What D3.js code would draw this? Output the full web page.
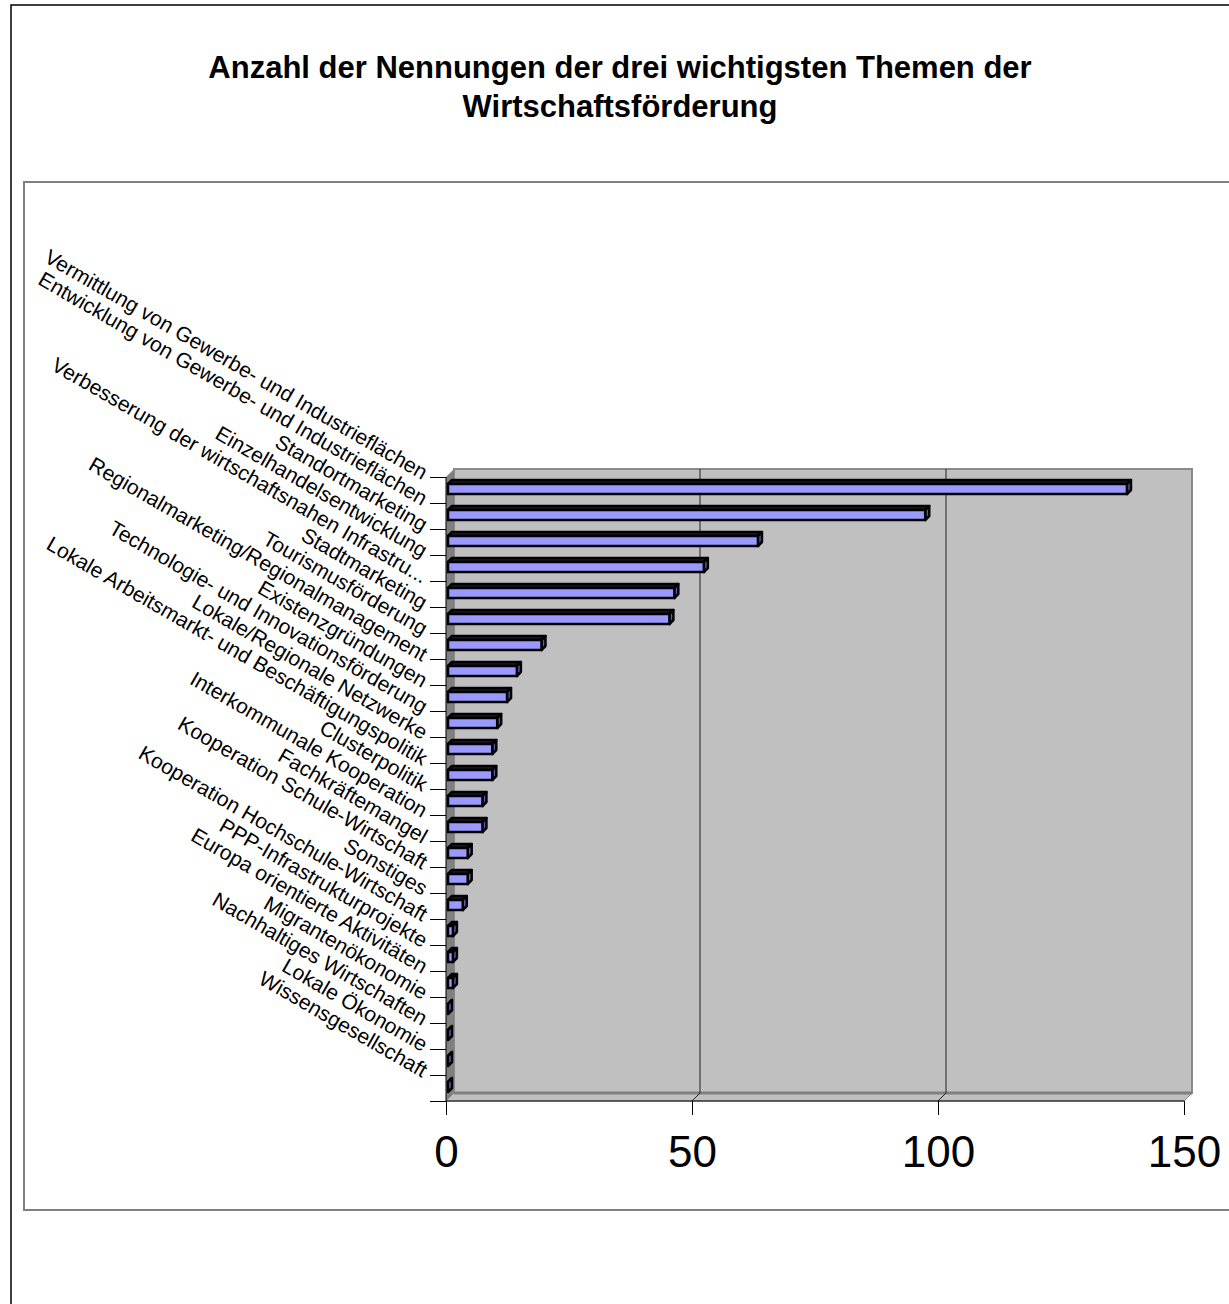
<!DOCTYPE html>
<html>
<head>
<meta charset="utf-8">
<script src="https://cdn.jsdelivr.net/npm/d3@7"></script>
<style>
  body { margin: 0; background: #fff; }
  svg { display: block; font-family: Arial, "Liberation Sans", sans-serif; }
</style>
</head>
<body>
<script>
// Themen der Wirtschaftsförderung (top to bottom)
const categories = [
  "Vermittlung von Gewerbe- und Industrieflächen",
  "Entwicklung von Gewerbe- und Industrieflächen",
  "Standortmarketing",
  "Einzelhandelsentwicklung",
  "Verbesserung der wirtschaftsnahen Infrastru...",
  "Stadtmarketing",
  "Tourismusförderung",
  "Regionalmarketing/Regionalmanagement",
  "Existenzgründungen",
  "Technologie- und Innovationsförderung",
  "Lokale/Regionale Netzwerke",
  "Lokale Arbeitsmarkt- und Beschäftigungspolitik",
  "Clusterpolitik",
  "Interkommunale Kooperation",
  "Fachkräftemangel",
  "Kooperation Schule-Wirtschaft",
  "Sonstiges",
  "Kooperation Hochschule-Wirtschaft",
  "PPP-Infrastrukturprojekte",
  "Europa orientierte Aktivitäten",
  "Migrantenökonomie",
  "Nachhaltiges Wirtschaften",
  "Lokale Ökonomie",
  "Wissensgesellschaft"
];

// Anzahl der Nennungen
const values = [138, 97, 63, 52, 46, 45, 19, 14, 12, 10, 9, 9, 7, 7, 4, 4, 3, 1, 1, 1, 0, 0, 0, 0];

const valueTicks = [0, 50, 100, 150];

const titleLines = [
  "Anzahl der Nennungen der drei wichtigsten Themen der",
  "Wirtschaftsförderung"
];

const width = 1229;
const height = 1304;

const svg = d3
  .select("body")
  .append("svg")
  .attr("width", width)
  .attr("height", height)
  .attr("viewBox", [0, 0, width, height]);

// Outer chart frame and inner plot frame
svg
  .append("path")
  .attr("d", `M11,${height} V5 H${width}`)
  .attr("fill", "none")
  .attr("stroke", "#000")
  .attr("stroke-width", 1.5);

svg
  .append("path")
  .attr("d", `M${width},182 H24 V1210 H${width}`)
  .attr("fill", "none")
  .attr("stroke", "#808080")
  .attr("stroke-width", 2);

// Title
svg
  .append("g")
  .selectAll("text")
  .data(titleLines)
  .join("text")
  .attr("x", 620)
  .attr("y", (d, i) => 78 + i * 39)
  .attr("text-anchor", "middle")
  .attr("font-size", 31)
  .attr("font-weight", "bold")
  .attr("fill", "#000")
  .text((d) => d);

// Scales
const xScale = d3.scaleLinear().domain([0, 150]).range([446, 1184]);
const yIndex = d3.scaleLinear().domain([0, categories.length]).range([477, 1101]);
const band = yIndex(1) - yIndex(0);

const depth = 8; // wall depth (3D offset)
const x0 = xScale(0);
const x1 = xScale(150);
const yTop = yIndex(0);
const yBot = yIndex(categories.length);

// Back wall
svg
  .append("rect")
  .attr("x", x0 + depth)
  .attr("y", yTop - depth)
  .attr("width", x1 - x0)
  .attr("height", yBot - yTop)
  .attr("fill", "#c0c0c0")
  .attr("stroke", "#8a8a8a")
  .attr("stroke-width", 2);

// Left side wall
svg
  .append("polygon")
  .attr("points", [
    [x0, yTop], [x0 + depth, yTop - depth],
    [x0 + depth, yBot - depth], [x0, yBot]
  ].join(" "))
  .attr("fill", "#808080");

// Floor
svg
  .append("polygon")
  .attr("points", [
    [x0, yBot], [x0 + depth, yBot - depth],
    [x1 + depth, yBot - depth], [x1, yBot]
  ].join(" "))
  .attr("fill", "#c0c0c0")
  .attr("stroke", "#8a8a8a")
  .attr("stroke-width", 1);

svg
  .append("line")
  .attr("x1", x0 + depth)
  .attr("x2", x1 + depth)
  .attr("y1", yBot - depth)
  .attr("y2", yBot - depth)
  .attr("stroke", "#808080")
  .attr("stroke-width", 3);

// Gridlines on the back wall and floor
const grid = svg.append("g");
valueTicks.slice(1, -1).forEach((v) => {
  grid
    .append("line")
    .attr("x1", xScale(v) + depth)
    .attr("x2", xScale(v) + depth)
    .attr("y1", yTop - depth)
    .attr("y2", yBot - depth)
    .attr("stroke", "#222")
    .attr("stroke-width", 1);
  grid
    .append("line")
    .attr("x1", xScale(v))
    .attr("x2", xScale(v) + depth)
    .attr("y1", yBot)
    .attr("y2", yBot - depth)
    .attr("stroke", "#222")
    .attr("stroke-width", 1);
});

// Category axis (ticks between categories)
svg
  .append("g")
  .attr("transform", `translate(${x0},0)`)
  .call(
    d3.axisLeft(yIndex)
      .tickValues(d3.range(categories.length + 1))
      .tickSize(16)
      .tickFormat("")
  )
  .call((g) => g.select(".domain").attr("stroke", "#000").attr("d", `M0,${yTop}V${yBot}`))
  .call((g) => g.selectAll(".tick line").attr("stroke", "#000"));

// Value axis
svg
  .append("g")
  .attr("transform", `translate(0,${yBot})`)
  .call(
    d3.axisBottom(xScale)
      .tickValues(valueTicks)
      .tickSize(14)
      .tickFormat(d3.format("d"))
  )
  .call((g) => g.select(".domain").attr("stroke", "#000").attr("d", `M${x0},0H${x1}`))
  .call((g) => g.selectAll(".tick line").attr("stroke", "#000"))
  .call((g) =>
    g.selectAll(".tick text")
      .attr("y", 66)
      .attr("dy", 0)
      .attr("font-size", 44)
      .attr("font-family", "Arial, 'Liberation Sans', sans-serif")
      .attr("fill", "#000")
  );

// 3D bars
const bd = 4;   // bar depth offset
const off = 2;  // bar front-face offset from axis
const bars = svg
  .append("g")
  .selectAll("g")
  .data(values.map((v, i) => ({ v, i, name: categories[i] })))
  .join("g");

bars.each(function (d) {
  const g = d3.select(this);
  const bt = yIndex(d.i);
  const xa = xScale(0) + off;
  const xb = xScale(d.v) + off;
  const ft = bt + 7;
  const fb = bt + 17;

  // top face
  g.append("polygon")
    .attr("points", [[xa, ft], [xa + bd, ft - bd], [xb + bd, ft - bd], [xb, ft]].join(" "))
    .attr("fill", "#1a1a33")
    .attr("stroke", "#000")
    .attr("stroke-width", 2.5)
    .attr("stroke-linejoin", "round");

  // side face
  g.append("polygon")
    .attr("points", [[xb, ft], [xb + bd, ft - bd], [xb + bd, fb - bd], [xb, fb]].join(" "))
    .attr("fill", "#5c5cb8")
    .attr("stroke", "#000")
    .attr("stroke-width", 2.5)
    .attr("stroke-linejoin", "round");

  // front face
  if (d.v > 0) {
    g.append("rect")
      .attr("x", xa)
      .attr("y", ft)
      .attr("width", xb - xa)
      .attr("height", fb - ft)
      .attr("fill", "#9999ff")
      .attr("stroke", "#000")
      .attr("stroke-width", 2.5);
  }
});

// Rotated category labels
svg
  .append("g")
  .selectAll("text")
  .data(categories)
  .join("text")
  .attr("transform", (d, i) => `translate(422,${yIndex(i) + band / 2 - 10}) rotate(30)`)
  .attr("text-anchor", "end")
  .attr("font-size", 21)
  .attr("fill", "#000")
  .text((d) => d);
</script>
</body>
</html>
